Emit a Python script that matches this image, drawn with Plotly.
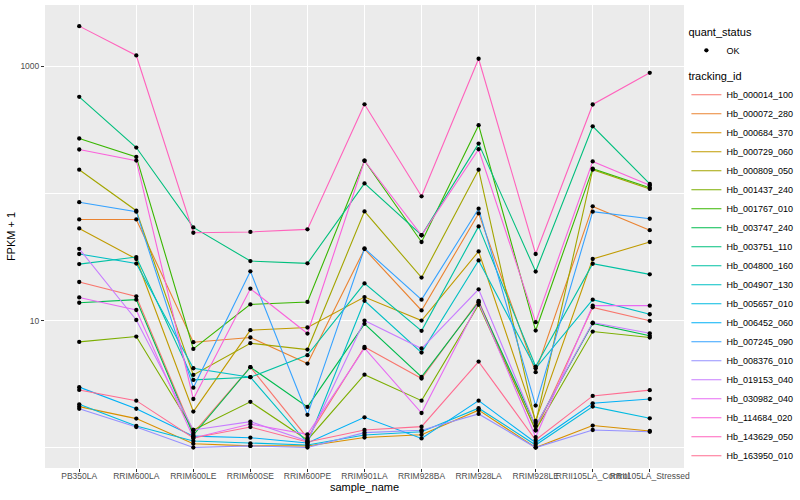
import plotly.graph_objects as go

samples = ["PB350LA", "RRIM600LA", "RRIM600LE", "RRIM600SE", "RRIM600PE", "RRIM901LA",
           "RRIM928BA", "RRIM928LA", "RRIM928LE", "RRII105LA_Control", "RRII105LA_Stressed"]

Hb_000014_100 = [20.1, 15.5, 1.30, 4.29, 1.19, 6.20, 3.49, 14.3, 1.36, 12.7, 9.95]
Hb_000072_280 = [62.5, 62.5, 6.75, 7.35, 4.58, 36.5, 12.0, 69.7, 3.92, 79.2, 51.4]
Hb_000684_370 = [2.10, 1.69, 1.07, 1.03, 1.03, 1.20, 1.26, 1.97, 1.00, 1.49, 1.35]
Hb_000729_060 = [53.1, 30.5, 1.92, 8.40, 8.81, 15.3, 10.0, 35.0, 1.62, 30.5, 41.5]
Hb_000809_050 = [154, 73.2, 3.73, 6.63, 5.91, 72.3, 21.8, 154, 1.56, 154, 108.6]
Hb_001437_240 = [6.79, 7.48, 1.375, 2.29, 1.147, 3.75, 2.34, 13.3, 1.375, 8.19, 7.35]
Hb_001767_010 = [271, 194, 5.98, 13.4, 14.0, 181, 41.5, 345, 8.34, 157, 111]
Hb_003747_240 = [13.8, 14.6, 1.256, 4.29, 2.09, 9.42, 3.60, 14.0, 1.48, 9.50, 7.58]
Hb_003751_110 = [577, 230, 54.1, 29.4, 28.2, 120, 46.9, 247, 24.3, 338, 119]
Hb_004800_160 = [27.8, 31.6, 3.41, 3.58, 5.34, 19.6, 8.29, 55.1, 4.34, 28.0, 23.1]
Hb_004907_130 = [33.4, 28.1, 4.21, 3.58, 1.086, 14.3, 5.59, 29.7, 4.21, 14.6, 11.2]
Hb_005657_010 = [2.19, 1.48, 1.126, 1.08, 1.047, 1.256, 1.33, 2.04, 1.047, 2.10, 1.70]
Hb_006452_060 = [2.99, 2.02, 1.23, 1.196, 1.086, 1.73, 1.18, 2.34, 1.09, 2.23, 2.41]
Hb_007245_090 = [85.4, 71.9, 2.96, 24.4, 1.81, 36.9, 14.6, 75.9, 2.14, 71.9, 63.3]
Hb_008376_010 = [2.02, 1.45, 1.0, 1.03, 1.0, 1.31, 1.37, 1.84, 1.0, 1.375, 1.33]
Hb_019153_040 = [36.7, 10.1, 1.375, 1.60, 1.126, 10.0, 6.02, 17.6, 1.48, 9.64, 7.93]
Hb_030982_040 = [15.2, 12.1, 1.19, 1.53, 1.27, 6.06, 1.87, 13.9, 1.21, 13.1, 13.1]
Hb_114684_020 = [222, 181.5, 2.41, 17.8, 7.90, 181, 46.9, 223, 9.71, 179, 116]
Hb_143629_050 = [2078, 1221, 49.1, 49.8, 52.2, 504, 95, 1150, 33.4, 502, 892]
Hb_163950_010 = [2.84, 2.34, 1.19, 1.45, 1.106, 1.375, 1.46, 4.75, 1.147, 2.55, 2.83]

tracking_ids = ["Hb_000014_100", "Hb_000072_280", "Hb_000684_370", "Hb_000729_060", "Hb_000809_050",
                "Hb_001437_240", "Hb_001767_010", "Hb_003747_240", "Hb_003751_110", "Hb_004800_160",
                "Hb_004907_130", "Hb_005657_010", "Hb_006452_060", "Hb_007245_090", "Hb_008376_010",
                "Hb_019153_040", "Hb_030982_040", "Hb_114684_020", "Hb_143629_050", "Hb_163950_010"]
series = [Hb_000014_100, Hb_000072_280, Hb_000684_370, Hb_000729_060, Hb_000809_050,
          Hb_001437_240, Hb_001767_010, Hb_003747_240, Hb_003751_110, Hb_004800_160,
          Hb_004907_130, Hb_005657_010, Hb_006452_060, Hb_007245_090, Hb_008376_010,
          Hb_019153_040, Hb_030982_040, Hb_114684_020, Hb_143629_050, Hb_163950_010]
colors = ["#F8766D", "#EA8331", "#D89000", "#C09B00", "#A3A500", "#7CAE00", "#39B600", "#00BB4E",
          "#00BF7D", "#00C1A3", "#00BFC4", "#00BAE0", "#00B0F6", "#35A2FF", "#9590FF", "#C77CFF",
          "#E76BF3", "#FA62DB", "#FF62BC", "#FF6C91"]

fig = go.Figure()
for tid, vals, col in zip(tracking_ids, series, colors):
    fig.add_trace(go.Scatter(x=samples, y=vals, mode="lines", name=tid,
                             line=dict(color=col, width=1.1), legend="legend2"))

all_x, all_y = [], []
for vals in series:
    all_x += samples
    all_y += vals
fig.add_trace(go.Scatter(x=all_x, y=all_y, mode="markers", name="OK",
                         marker=dict(color="black", size=4.3), legend="legend"))

font = "Liberation Sans, Arial, sans-serif"
fig.update_layout(
    width=800, height=500,
    margin=dict(l=45, r=116, t=5, b=32, autoexpand=False),
    paper_bgcolor="white", plot_bgcolor="#EBEBEB",
    font=dict(family=font, color="#000000"),
    legend=dict(title=dict(text="quant_status", font=dict(size=11)), font=dict(size=9),
                xref="container", yref="container", x=0.858, y=0.957,
                xanchor="left", yanchor="top", bgcolor="rgba(0,0,0,0)", itemwidth=30),
    legend2=dict(title=dict(text="tracking_id", font=dict(size=11)), font=dict(size=9),
                 xref="container", yref="container", x=0.858, y=0.868,
                 xanchor="left", yanchor="top", bgcolor="rgba(0,0,0,0)", itemwidth=30,
                 tracegroupgap=0, maxheight=440),
    showlegend=True,
)
fig.update_xaxes(
    type="category", categoryorder="array", categoryarray=samples,
    range=[-0.6, 10.6], showgrid=True, gridcolor="white", gridwidth=1.1,
    ticks="outside", ticklen=3, tickcolor="#333333", tickangle=0, ticklabelstandoff=-3,
    tickfont=dict(size=8.5, color="#4D4D4D"), zeroline=False, showline=False, automargin=False,
    title=dict(text="sample_name", font=dict(size=11), standoff=1),
)
fig.update_yaxes(
    type="log", range=[-0.161, 3.484],
    tickvals=[10, 1000], ticktext=["10", "1000"],
    showgrid=True, gridcolor="white", gridwidth=1.1,
    minor=dict(tickvals=[1, 100], showgrid=True, gridcolor="white", gridwidth=0.5, ticks=""),
    ticks="outside", ticklen=3, tickcolor="#333333",
    tickfont=dict(size=8.5, color="#4D4D4D"), zeroline=False, showline=False, automargin=False,
    title=dict(text="FPKM + 1", font=dict(size=11), standoff=2),
)

fig.write_html("out.html", config={"displayModeBar": False},
               post_script="document.body.style.margin='0';document.body.style.overflow='hidden';")
